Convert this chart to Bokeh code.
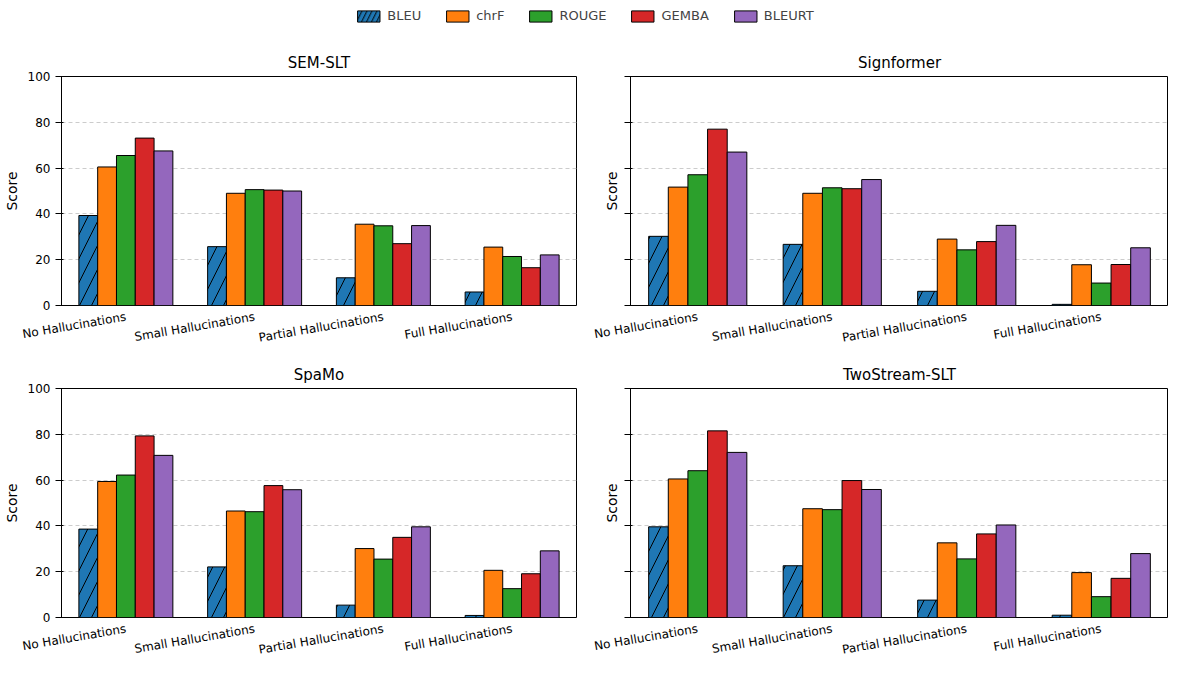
from bokeh.plotting import figure
from bokeh.models import ColumnDataSource, FactorRange, Legend, LegendItem, Range1d
from bokeh.layouts import column, gridplot
from bokeh.transform import dodge
from bokeh.embed import file_html
from bokeh.resources import INLINE

categories = ["No Hallucinations", "Small Hallucinations", "Partial Hallucinations", "Full Hallucinations"]
metrics = ["BLEU", "chrF", "ROUGE", "GEMBA", "BLEURT"]
colors = ["#1f77b4", "#ff7f0e", "#2ca02c", "#d62728", "#9467bd"]

# scores per model: one list per metric, across categories
sem_slt = {
    "BLEU": [39.3, 25.7, 12.1, 5.9],
    "chrF": [60.5, 49.0, 35.5, 25.5],
    "ROUGE": [65.5, 50.6, 34.8, 21.4],
    "GEMBA": [73.1, 50.4, 27.0, 16.5],
    "BLEURT": [67.5, 50.0, 34.9, 22.1],
}
signformer = {
    "BLEU": [30.2, 26.7, 6.2, 0.5],
    "chrF": [51.7, 49.0, 29.0, 17.8],
    "ROUGE": [57.1, 51.4, 24.3, 9.8],
    "GEMBA": [77.0, 51.0, 27.9, 17.9],
    "BLEURT": [67.0, 55.0, 35.0, 25.2],
}
spamo = {
    "BLEU": [38.6, 22.1, 5.4, 0.9],
    "chrF": [59.4, 46.5, 30.1, 20.6],
    "ROUGE": [62.2, 46.2, 25.5, 12.6],
    "GEMBA": [79.3, 57.6, 35.0, 19.1],
    "BLEURT": [70.8, 55.8, 39.6, 29.1],
}
twostream = {
    "BLEU": [39.6, 22.6, 7.6, 1.0],
    "chrF": [60.5, 47.5, 32.6, 19.6],
    "ROUGE": [64.1, 47.1, 25.6, 9.1],
    "GEMBA": [81.5, 59.8, 36.5, 17.1],
    "BLEURT": [72.1, 55.9, 40.4, 27.9],
}
models = [("SEM-SLT", sem_slt), ("Signformer", signformer), ("SpaMo", spamo), ("TwoStream-SLT", twostream)]

FONT = "DejaVu Sans"
bw = 0.146


def make_panel(title, data, left):
    p = figure(x_range=FactorRange(*categories), y_range=Range1d(0, 100),
               width=584, height=312, output_backend="svg",
               toolbar_location=None, tools="", title=title,
               min_border_left=54 if left else 46, min_border_right=8 if left else 0,
               min_border_top=34, min_border_bottom=42)
    for i, m in enumerate(metrics):
        src = ColumnDataSource(dict(cat=categories, val=data[m]))
        kw = {}
        if m == "BLEU":
            kw = dict(hatch_pattern="/", hatch_color="black", hatch_scale=24, hatch_weight=1)
        p.vbar(x=dodge("cat", (i - 2) * bw, range=p.x_range), top="val", width=bw,
               source=src, fill_color=colors[i], line_color="black", line_width=1, **kw)
    p.title.align = "center"
    p.title.text_font = FONT
    p.title.text_font_size = "15px"
    p.title.text_font_style = "normal"
    p.title.text_color = "black"
    p.xgrid.grid_line_color = None
    p.ygrid.grid_line_dash = "4 3"
    p.ygrid.grid_line_color = "#cccccc"
    p.outline_line_color = "black"
    p.yaxis.axis_label = "Score"
    p.yaxis.axis_label_text_font = FONT
    p.yaxis.axis_label_text_font_style = "normal"
    p.yaxis.axis_label_text_font_size = "14px"
    p.yaxis.axis_label_text_color = "black"
    p.yaxis.ticker = [0, 20, 40, 60, 80, 100]
    p.yaxis.minor_tick_line_color = None
    p.yaxis.major_label_text_font = FONT
    p.yaxis.major_label_text_font_size = "12px"
    p.yaxis.major_label_text_color = "black"
    if not left:
        p.yaxis.major_label_text_alpha = 0
        p.yaxis.major_label_text_font_size = "1px"
    p.xaxis.major_label_orientation = 0.17
    p.xaxis.major_label_text_font = FONT
    p.xaxis.major_label_text_font_size = "12px"
    p.xaxis.major_label_text_color = "black"
    p.xaxis.major_tick_line_color = None
    p.x_range.range_padding = 0.0
    p.x_range.group_padding = 0
    p.axis.axis_line_color = None
    return p


panels = [make_panel(t, d, i % 2 == 0) for i, (t, d) in enumerate(models)]

# legend strip on top
lg = figure(width=1168, height=42, output_backend="svg", toolbar_location=None, tools="",
            x_range=Range1d(0, 1), y_range=Range1d(0, 1), min_border=0)
lg.axis.visible = False
lg.grid.visible = False
lg.outline_line_color = None
items = []
for i, m in enumerate(metrics):
    kw = {}
    if m == "BLEU":
        kw = dict(hatch_pattern="/", hatch_color="black", hatch_scale=10)
    r = lg.vbar(x=[-5], top=[-5], width=0.1, fill_color=colors[i], line_color="black", **kw)
    items.append(LegendItem(label=m, renderers=[r]))
leg = Legend(items=items, orientation="horizontal", location="top_center", border_line_color=None,
             label_text_font=FONT, label_text_font_size="13px", spacing=22,
             glyph_width=28, glyph_height=14, margin=8, padding=2)
lg.add_layout(leg, "center")

grid = gridplot([[panels[0], panels[1]], [panels[2], panels[3]]], toolbar_location=None)
layout = column(lg, grid)

open("out.html", "w").write(file_html(layout, INLINE))
